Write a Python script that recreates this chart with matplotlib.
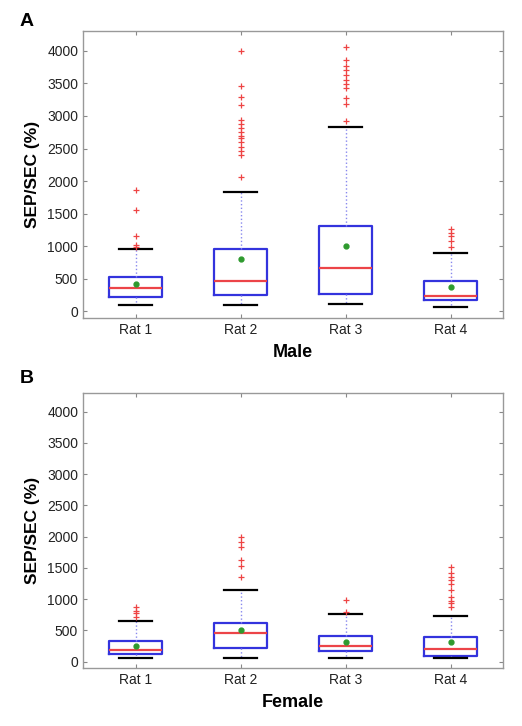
import matplotlib
matplotlib.use("Agg")
import matplotlib.pyplot as plt

plt.rcParams['font.family'] = ['Liberation Sans', 'DejaVu Sans']

rats = ["Rat 1", "Rat 2", "Rat 3", "Rat 4"]

# male: lower whisker, q1, median, q3, upper whisker, mean
male_lo = [97, 97, 113, 72]
male_q1 = [215, 250, 266, 174]
male_med = [358, 460, 660, 240]
male_q3 = [522, 951, 1315, 460]
male_hi = [951, 1826, 2824, 890]
male_mean = [420, 803, 1008, 368]
male_out = [
    [992, 1018, 1161, 1555, 1867],
    [2056, 2394, 2455, 2517, 2593, 2660, 2685, 2747, 2808, 2875, 2941, 3161, 3284, 3463, 3990],
    [2916, 3182, 3274, 3427, 3488, 3555, 3632, 3703, 3770, 3862, 4051],
    [982, 1074, 1161, 1210, 1258],
]

# female
fem_lo = [59, 59, 59, 59]
fem_q1 = [123, 219, 176, 91]
fem_med = [187, 453, 256, 203]
fem_q3 = [325, 613, 416, 389]
fem_hi = [656, 1147, 763, 736]
fem_mean = [245, 507, 320, 320]
fem_out = [
    [709, 773, 816, 880],
    [1349, 1536, 1627, 1829, 1909, 2000],
    [789, 992],
    [869, 933, 976, 1029, 1147, 1243, 1307, 1349, 1413, 1509],
]


def stats(lo, q1, med, q3, hi, mean, out):
    s = []
    for i in range(len(lo)):
        s.append({'whislo': lo[i], 'q1': q1[i], 'med': med[i], 'q3': q3[i],
                  'whishi': hi[i], 'mean': mean[i], 'fliers': out[i], 'label': rats[i]})
    return s


def draw(ax, st, xlabel):
    ax.bxp(st, positions=[1, 2, 3, 4], widths=0.5, capwidths=0.32, showmeans=True,
           boxprops=dict(color='#3333dd', linewidth=1.6),
           medianprops=dict(color='#ec4448', linewidth=1.6),
           whiskerprops=dict(color='#8888ee', linewidth=1.0, linestyle=':'),
           capprops=dict(color='black', linewidth=1.6),
           flierprops=dict(marker='+', markeredgecolor='#ee4444', markersize=4,
                           markeredgewidth=0.9, linestyle='none'),
           meanprops=dict(marker='o', markerfacecolor='#2e9a2e', markeredgecolor='#2e9a2e', markersize=3.5))
    ax.set_xlim(0.5, 4.5)
    ax.set_ylim(-100, 4300)
    ax.set_yticks(range(0, 4001, 500))
    ax.tick_params(direction='in', top=True, right=True, length=3, width=0.8,
                   colors='#888888', labelcolor='#222222', labelsize=10)
    for sp in ax.spines.values():
        sp.set_color('#999999')
        sp.set_linewidth(1.0)
    ax.set_ylabel("SEP/SEC (%)", fontsize=12.5, fontweight='bold', labelpad=5)
    ax.set_xlabel(xlabel, fontsize=13, fontweight='bold', labelpad=5)


fig = plt.figure(figsize=(5.22, 7.26), dpi=100)
axA = fig.add_axes([0.159, 0.562, 0.805, 0.395])
axB = fig.add_axes([0.159, 0.080, 0.805, 0.379])

draw(axA, stats(male_lo, male_q1, male_med, male_q3, male_hi, male_mean, male_out), "Male")
draw(axB, stats(fem_lo, fem_q1, fem_med, fem_q3, fem_hi, fem_mean, fem_out), "Female")

fig.text(0.038, 0.970, "A", fontsize=14, fontweight='bold', va='center')
fig.text(0.038, 0.478, "B", fontsize=14, fontweight='bold', va='center')

fig.savefig("out.png", dpi=100)
